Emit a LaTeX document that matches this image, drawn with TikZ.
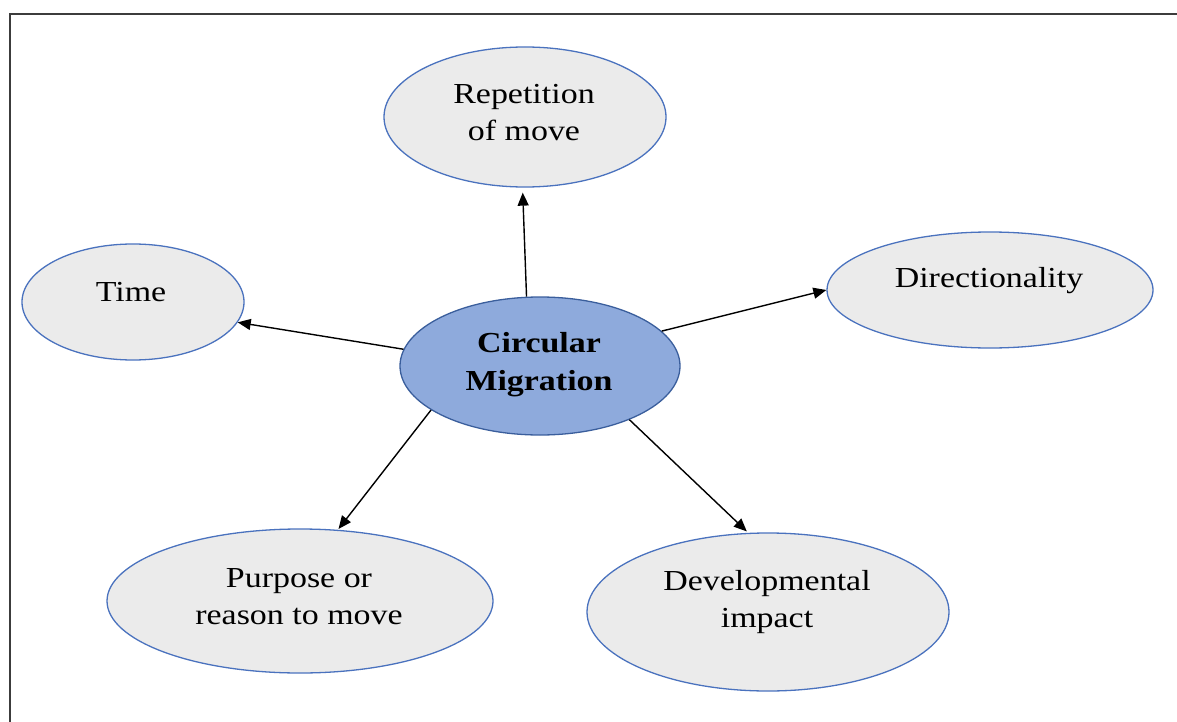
\documentclass[tikz,border=0pt]{standalone}
\usepackage{fontspec}
\setmainfont{Liberation Serif}[FakeStretch=1.17]
\usetikzlibrary{shapes.geometric,arrows.meta}
\definecolor{bubblefill}{HTML}{EBEBEB}
\definecolor{bubbleline}{HTML}{4A72BE}
\definecolor{hubfill}{HTML}{8EAADC}
\definecolor{hubline}{HTML}{3A5E9C}
\definecolor{framecol}{HTML}{3C3C3C}
\begin{document}
\begin{tikzpicture}[x=1pt,y=-1pt,
  bubble/.style={ellipse,draw=bubbleline,fill=bubblefill,line width=1.3pt,inner sep=0pt},
  hub/.style={ellipse,draw=hubline,fill=hubfill,line width=1.3pt,inner sep=0pt},
  label text/.style={align=center,inner sep=0pt,font=\fontsize{29}{37}\selectfont},
  link/.style={line width=1.4pt,-{Triangle[length=13pt,width=11pt]}}]
\useasboundingbox (0,0) rectangle (1177,722);
% frame around the figure
\coordinate (fbl) at (10,722);
\coordinate (ftl) at (10,14);
\coordinate (ftr) at (1177,14);
\draw[framecol,line width=2pt] (fbl) -- (ftl) -- (ftr);

% ellipses
\node[hub,minimum width=280pt,minimum height=138pt] (hub) at (540,366) {};
\node[bubble,minimum width=282pt,minimum height=140pt] (rep) at (525,117) {};
\node[bubble,minimum width=222pt,minimum height=116pt] (time) at (133,302) {};
\node[bubble,minimum width=326pt,minimum height=116pt] (dir) at (990,290) {};
\node[bubble,minimum width=386pt,minimum height=144pt] (purp) at (300,601) {};
\node[bubble,minimum width=362pt,minimum height=158pt] (dev) at (768,612) {};

% texts
\node[label text,font=\fontsize{29}{38}\selectfont\bfseries] (hubt) at (539,365) {Circular\\Migration};
\node[label text] (rept) at (524,113) {Repetition\\of move};
\node[label text] (timet) at (131,292) {Time};
\node[label text] (dirt) at (989,281) {Directionality};
\node[label text] (purpt) at (299,597) {Purpose or\\reason to move};
\node[label text] (devt) at (767,602) {Developmental\\impact};

% connectors
\draw[link,shorten >=5pt] (hub.101.5) -- (rep.268);
\draw[link] (hub.173.4) -- (time.-11);
\draw[link] (hub.16.4) -- (dir.180);
\draw[link,shorten >=1pt] (hub.202.3) -- (purp.62);
\draw[link,shorten >=2pt] (hub.-31) -- (dev.104);
\end{tikzpicture}
\end{document}
